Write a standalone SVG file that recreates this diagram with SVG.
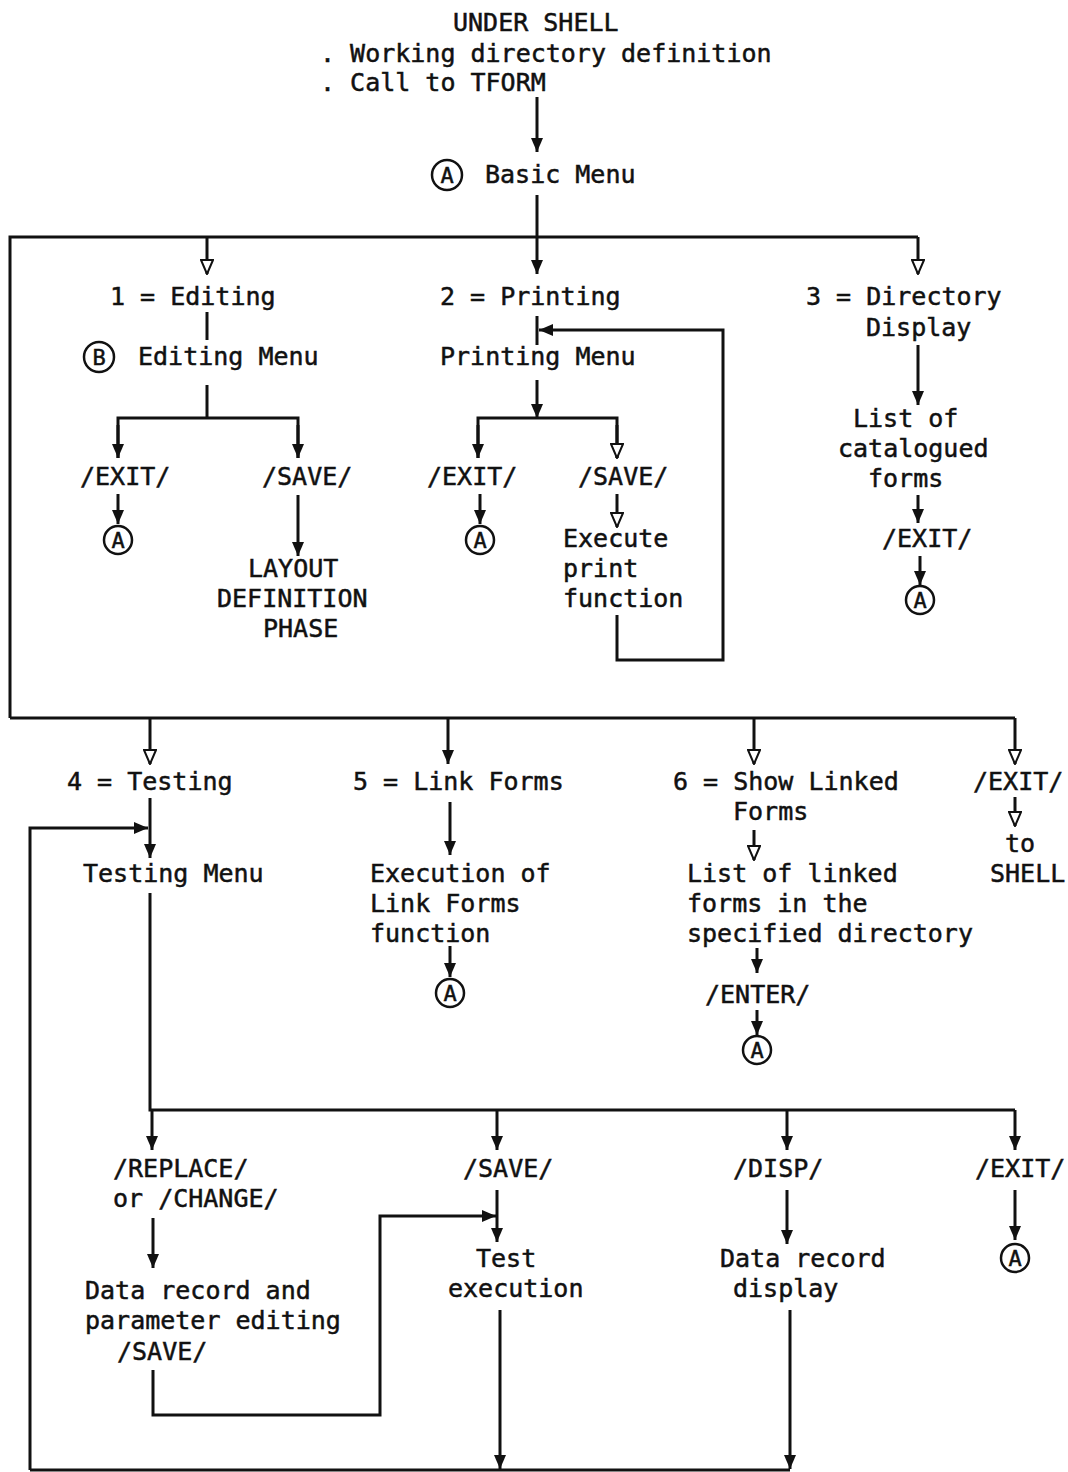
<svg xmlns="http://www.w3.org/2000/svg" width="1068" height="1472" viewBox="0 0 1068 1472">
<style>
text{font-family:"DejaVu Sans Mono","Liberation Mono",monospace;font-size:25px;fill:#111;stroke:#111;stroke-width:0.5}
.c{font-size:22px;text-anchor:middle}
.ln{fill:none;stroke:#111;stroke-width:3}
.cir{fill:none;stroke:#111;stroke-width:2.5}
</style>
<defs>
<marker id="af" viewBox="0 0 14 12" refX="14" refY="6" markerWidth="14" markerHeight="12" markerUnits="userSpaceOnUse" orient="auto"><path d="M0,0 L14,6 L0,12 z" fill="#111"/></marker>
<marker id="ao" viewBox="-1 -1 16 14" refX="14" refY="6" markerWidth="16" markerHeight="14" markerUnits="userSpaceOnUse" orient="auto"><path d="M0,0 L14,6 L0,12 z" fill="#fff" stroke="#111" stroke-width="2"/></marker>
</defs>
<rect width="1068" height="1472" fill="#fff"/>

<g id="connectors">
<path class="ln" d="M537,97 V152" marker-end="url(#af)"/>
<path class="ln" d="M537,195 V237" />
<path class="ln" d="M10,718 V237 H918"/>
<path class="ln" d="M207,237 V274" marker-end="url(#ao)"/>
<path class="ln" d="M537,237 V274" marker-end="url(#af)"/>
<path class="ln" d="M918,237 V274" marker-end="url(#ao)"/>
<path class="ln" d="M207,312 V340"/>
<path class="ln" d="M207,385 V418"/>
<path class="ln" d="M118,458 V418 H298 V458" />
<path class="ln" d="M118,425 V458" marker-end="url(#af)"/>
<path class="ln" d="M298,425 V458" marker-end="url(#af)"/>
<path class="ln" d="M118,494 V524" marker-end="url(#af)"/>
<path class="ln" d="M298,495 V556" marker-end="url(#af)"/>
<path class="ln" d="M537,316 V345"/>
<path class="ln" d="M617,615 V660 H723 V330 H539" marker-end="url(#af)"/>
<path class="ln" d="M537,380 V418" marker-end="url(#af)"/>
<path class="ln" d="M478,458 V418 H617 V458"/>
<path class="ln" d="M478,425 V458" marker-end="url(#af)"/>
<path class="ln" d="M617,425 V458" marker-end="url(#ao)"/>
<path class="ln" d="M480,494 V524" marker-end="url(#af)"/>
<path class="ln" d="M617,494 V527" marker-end="url(#ao)"/>
<path class="ln" d="M918,345 V405" marker-end="url(#af)"/>
<path class="ln" d="M918,495 V523" marker-end="url(#af)"/>
<path class="ln" d="M920,556 V585" marker-end="url(#af)"/>
<path class="ln" d="M10,718 H1015"/>
<path class="ln" d="M150,718 V764" marker-end="url(#ao)"/>
<path class="ln" d="M448,718 V764" marker-end="url(#af)"/>
<path class="ln" d="M754,718 V764" marker-end="url(#ao)"/>
<path class="ln" d="M1015,718 V764" marker-end="url(#ao)"/>
<path class="ln" d="M150,798 V858" marker-end="url(#af)"/>
<path class="ln" d="M30,1470 V828 H148" marker-end="url(#af)"/>
<path class="ln" d="M450,802 V855" marker-end="url(#af)"/>
<path class="ln" d="M754,830 V860" marker-end="url(#ao)"/>
<path class="ln" d="M1015,797 V826" marker-end="url(#ao)"/>
<path class="ln" d="M450,946 V977" marker-end="url(#af)"/>
<path class="ln" d="M757,948 V973" marker-end="url(#af)"/>
<path class="ln" d="M757,1010 V1035" marker-end="url(#af)"/>
<path class="ln" d="M150,893 V1110 H1015"/>
<path class="ln" d="M152,1110 V1150" marker-end="url(#af)"/>
<path class="ln" d="M497,1110 V1150" marker-end="url(#af)"/>
<path class="ln" d="M787,1110 V1150" marker-end="url(#af)"/>
<path class="ln" d="M1015,1110 V1150" marker-end="url(#af)"/>
<path class="ln" d="M153,1218 V1268" marker-end="url(#af)"/>
<path class="ln" d="M153,1370 V1415 H380 V1216 H496" marker-end="url(#af)"/>
<path class="ln" d="M497,1190 V1242" marker-end="url(#af)"/>
<path class="ln" d="M787,1190 V1244" marker-end="url(#af)"/>
<path class="ln" d="M1015,1190 V1240" marker-end="url(#af)"/>
<path class="ln" d="M500,1310 V1469" marker-end="url(#af)"/>
<path class="ln" d="M790,1310 V1469" marker-end="url(#af)"/>
<path class="ln" d="M30,1470 H790"/>
</g>

<g id="shell"><text x="453" y="31">UNDER SHELL</text><text x="320" y="62">. Working directory definition</text><text x="320" y="91">. Call to TFORM</text></g>
<g id="basic-menu"><circle class="cir" cx="447" cy="175" r="15"/><text class="c" x="447" y="183">A</text><text x="485" y="183">Basic Menu</text></g>

<g id="editing"><text x="110" y="305">1 = Editing</text></g>
<g id="editing-menu"><circle class="cir" cx="99" cy="357" r="15"/><text class="c" x="99" y="365">B</text><text x="138" y="365">Editing Menu</text></g>
<g id="ed-exit"><text x="80" y="485">/EXIT/</text></g>
<g id="ed-exit-a"><circle class="cir" cx="118" cy="540" r="14"/><text class="c" x="118" y="548">A</text></g>
<g id="ed-save"><text x="262" y="485">/SAVE/</text></g>
<g id="layout"><text x="248" y="577">LAYOUT</text><text x="217" y="607">DEFINITION</text><text x="263" y="637">PHASE</text></g>

<g id="printing"><text x="440" y="305">2 = Printing</text></g>
<g id="printing-menu"><text x="440" y="365">Printing Menu</text></g>
<g id="pr-exit"><text x="427" y="485">/EXIT/</text></g>
<g id="pr-exit-a"><circle class="cir" cx="480" cy="540" r="14"/><text class="c" x="480" y="548">A</text></g>
<g id="pr-save"><text x="578" y="485">/SAVE/</text></g>
<g id="execute-print"><text x="563" y="547">Execute</text><text x="563" y="577">print</text><text x="563" y="607">function</text></g>

<g id="directory"><text x="806" y="305">3 = Directory</text><text x="866" y="336">Display</text></g>
<g id="catalogued"><text x="853" y="427">List of</text><text x="838" y="457">catalogued</text><text x="868" y="487">forms</text></g>
<g id="dir-exit"><text x="882" y="547">/EXIT/</text></g>
<g id="dir-exit-a"><circle class="cir" cx="920" cy="600" r="14"/><text class="c" x="920" y="608">A</text></g>

<g id="testing"><text x="67" y="790">4 = Testing</text></g>
<g id="testing-menu"><text x="83" y="882">Testing Menu</text></g>
<g id="link-forms"><text x="353" y="790">5 = Link Forms</text></g>
<g id="link-exec"><text x="370" y="882">Execution of</text><text x="370" y="912">Link Forms</text><text x="370" y="942">function</text></g>
<g id="link-a"><circle class="cir" cx="450" cy="993" r="14"/><text class="c" x="450" y="1001">A</text></g>
<g id="show-linked"><text x="673" y="790">6 = Show Linked</text><text x="733" y="820">Forms</text></g>
<g id="linked-list"><text x="687" y="882">List of linked</text><text x="687" y="912">forms in the</text><text x="687" y="942">specified directory</text></g>
<g id="enter"><text x="705" y="1003">/ENTER/</text></g>
<g id="enter-a"><circle class="cir" cx="757" cy="1050" r="14"/><text class="c" x="757" y="1058">A</text></g>
<g id="main-exit"><text x="973" y="790">/EXIT/</text></g>
<g id="to-shell"><text x="1005" y="852">to</text><text x="990" y="882">SHELL</text></g>

<g id="replace"><text x="113" y="1177">/REPLACE/</text><text x="113" y="1207">or /CHANGE/</text></g>
<g id="data-edit"><text x="85" y="1299">Data record and</text><text x="85" y="1329">parameter editing</text><text x="117" y="1360">/SAVE/</text></g>
<g id="t-save"><text x="463" y="1177">/SAVE/</text></g>
<g id="test-exec"><text x="476" y="1267">Test</text><text x="448" y="1297">execution</text></g>
<g id="disp"><text x="733" y="1177">/DISP/</text></g>
<g id="record-display"><text x="720" y="1267">Data record</text><text x="733" y="1297">display</text></g>
<g id="t-exit"><text x="975" y="1177">/EXIT/</text></g>
<g id="t-exit-a"><circle class="cir" cx="1015" cy="1258" r="14"/><text class="c" x="1015" y="1266">A</text></g>
</svg>
